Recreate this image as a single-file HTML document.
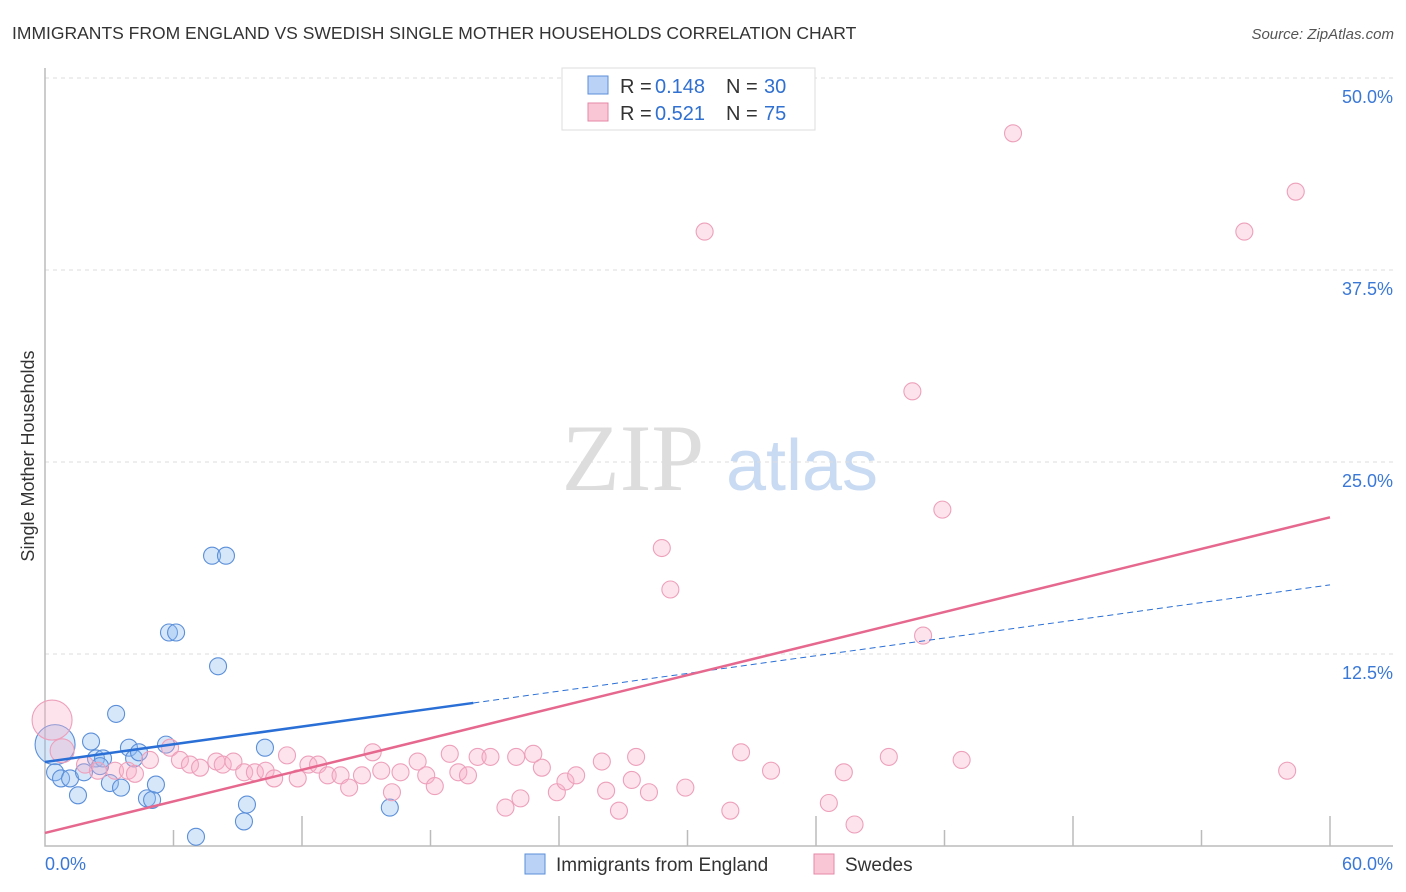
<!DOCTYPE html>
<html><head><meta charset="utf-8"><style>
body{margin:0;background:#fff;font-family:"Liberation Sans",sans-serif;}
svg{display:block}
</style></head><body>
<svg id="chart" width="1406" height="892">
<text x="12" y="39" font-size="17.5" fill="#333">IMMIGRANTS FROM ENGLAND VS SWEDISH SINGLE MOTHER HOUSEHOLDS CORRELATION CHART</text>
<text x="1394" y="39" font-size="15" fill="#555" font-style="italic" text-anchor="end">Source: ZipAtlas.com</text>
<g>
<text x="633" y="490" font-size="95" fill="#ddd" font-family="Liberation Serif,serif" text-anchor="middle">ZIP</text>
<text x="802" y="490" font-size="72" fill="#c9daf3" text-anchor="middle">atlas</text>
</g>
<g id="grid"></g><g id="axes"></g><g id="pts"></g><g id="lines"></g>
<text transform="translate(34,456) rotate(-90)" font-size="18" fill="#333" text-anchor="middle">Single Mother Households</text>
<g>
<rect x="562" y="68" width="253" height="62" fill="#fff" stroke="#ddd"/>
<rect x="588" y="76" width="20" height="18" fill="#b9d2f5" stroke="#5b8fd9"/>
<rect x="588" y="103" width="20" height="18" fill="#f9c6d5" stroke="#e589a7"/>
<text x="620" y="93" font-size="20" fill="#333">R =</text><text x="655" y="93" font-size="20" fill="#3070d0">0.148</text>
<text x="726" y="93" font-size="20" fill="#333">N =</text><text x="764" y="93" font-size="20" fill="#3070d0">30</text>
<text x="620" y="120" font-size="20" fill="#333">R =</text><text x="655" y="120" font-size="20" fill="#3070d0">0.521</text>
<text x="726" y="120" font-size="20" fill="#333">N =</text><text x="764" y="120" font-size="20" fill="#3070d0">75</text>
</g>
<g>
<rect x="525" y="854" width="20" height="20" fill="#b9d2f5" stroke="#5b8fd9"/>
<text x="556" y="871" font-size="19" fill="#333">Immigrants from England</text>
<rect x="814" y="854" width="20" height="20" fill="#f9c6d5" stroke="#e589a7"/>
<text x="845" y="871" font-size="19" fill="#333">Swedes</text>
</g>
</svg>
<script>
const yTicks=[12.5,25,37.5,50];
const yTickLabels=["12.5%","25.0%","37.5%","50.0%"];
const xTickLabels=["0.0%","60.0%"];
const blueX=[0.47,0.47,0.75,1.17,1.82,1.54,2.15,2.38,2.71,3.03,3.32,3.55,3.92,4.16,4.39,4.76,5.0,5.18,5.65,5.79,6.12,7.05,7.8,8.45,8.08,9.29,9.43,10.27,16.1,2.57];
const blueY=[6.6,4.8,4.4,4.4,4.8,3.3,6.8,5.7,5.7,4.1,8.6,3.8,6.4,5.7,6.1,3.1,3.0,4.0,6.6,13.9,13.9,0.6,18.9,18.9,11.7,1.6,2.7,6.4,2.5,5.2];
const pinkX=[0.33,0.8,1.87,2.47,3.27,3.87,4.2,4.9,5.84,6.3,6.77,7.24,8.0,8.3,8.8,9.3,9.8,10.3,10.7,11.3,11.8,12.3,12.75,13.2,13.8,14.2,14.8,15.3,15.7,16.2,16.6,17.4,17.8,18.2,18.9,19.3,19.75,20.2,20.8,21.5,22.0,22.2,22.8,23.2,23.9,24.3,24.8,26.0,26.2,26.8,27.4,27.6,28.2,29.9,32.0,32.5,33.9,36.6,37.3,37.8,39.4,42.8,58.0,28.8,29.2,30.8,40.5,41.9,41.0,45.2,56.0,58.4];
const pinkY=[8.2,6.2,5.3,4.9,4.9,4.9,4.7,5.6,6.4,5.6,5.3,5.1,5.5,5.3,5.5,4.8,4.8,4.9,4.4,5.9,4.4,5.3,5.3,4.6,4.6,3.8,4.6,6.1,4.9,3.5,4.8,5.5,4.6,3.9,6.0,4.8,4.6,5.8,5.8,2.5,5.8,3.1,6.0,5.1,3.5,4.2,4.6,5.5,3.6,2.3,4.3,5.8,3.5,3.8,2.3,6.1,4.9,2.8,4.8,1.4,5.8,5.6,4.9,19.4,16.7,40.0,29.6,21.9,13.7,46.4,40.0,42.6];
const blueTrend=[5.47,17.0], blueSolidEnd=20.0;
const pinkTrend=[0.85,21.4];
const X=v=>45+v/60*1285, Y=v=>846-v/12.5*192;
const NS="http://www.w3.org/2000/svg";
function mk(t,a,p){const e=document.createElementNS(NS,t);for(const k in a)e.setAttribute(k,a[k]);p.appendChild(e);return e;}
const grid=document.getElementById('grid'),axes=document.getElementById('axes'),pts=document.getElementById('pts'),lines=document.getElementById('lines');
yTicks.forEach((t,i)=>{
 const g=mk('line',{x1:45,x2:1393,y1:Y(t),y2:Y(t),stroke:'#ddd','stroke-dasharray':'4,4'},grid);
 
 
 const l=mk('text',{x:1393,y:Y(t)+25,'font-size':18,fill:'#3a78d6','text-anchor':'end'},axes);
 l.textContent=yTickLabels[i];
 
 
});
const ax=mk('path',{d:'M45,68V846H1393',fill:'none',stroke:'#bbb','stroke-width':1.5},axes);


for(let i=1;i<=10;i++){const tk=mk('line',{x1:X(i*6),x2:X(i*6),y1:846,y2:(i%2?830:816),stroke:'#bbb','stroke-width':1.5},axes);
 
 }
[[0,'start',45],[60,'end',1393]].forEach((a,i)=>{const t=mk('text',{x:a[2],y:870,'font-size':18,fill:'#3a78d6','text-anchor':a[1]},axes);t.textContent=xTickLabels[i];
 
 });
blueX.forEach((x,i)=>{const c=mk('circle',{cx:X(x),cy:Y(blueY[i]),r:i==0?20:8.5,fill:'rgba(140,185,240,0.35)',stroke:'#5b8fd9','stroke-width':1.1},pts);
 
 });
pinkX.forEach((x,i)=>{const c=mk('circle',{cx:X(x),cy:Y(pinkY[i]),r:i==0?20:(i==1?12:8.5),fill:'rgba(248,175,200,0.35)',stroke:'#eda0bb','stroke-width':1.1},pts);
 
 });
const by=x=>blueTrend[0]+(blueTrend[1]-blueTrend[0])*x/60;
const l1=mk('line',{x1:X(0),y1:Y(by(0)),x2:X(blueSolidEnd),y2:Y(by(blueSolidEnd)),stroke:'#2a6fd6','stroke-width':2.5},lines);


const l2=mk('line',{x1:X(blueSolidEnd),y1:Y(by(blueSolidEnd)),x2:X(60),y2:Y(by(60)),stroke:'#2a6fd6','stroke-width':1,'stroke-dasharray':'6,4'},lines);


const l3=mk('line',{x1:X(0),y1:Y(pinkTrend[0]),x2:X(60),y2:Y(pinkTrend[1]),stroke:'#e6688f','stroke-width':2.5},lines);


</script>
</body></html>
